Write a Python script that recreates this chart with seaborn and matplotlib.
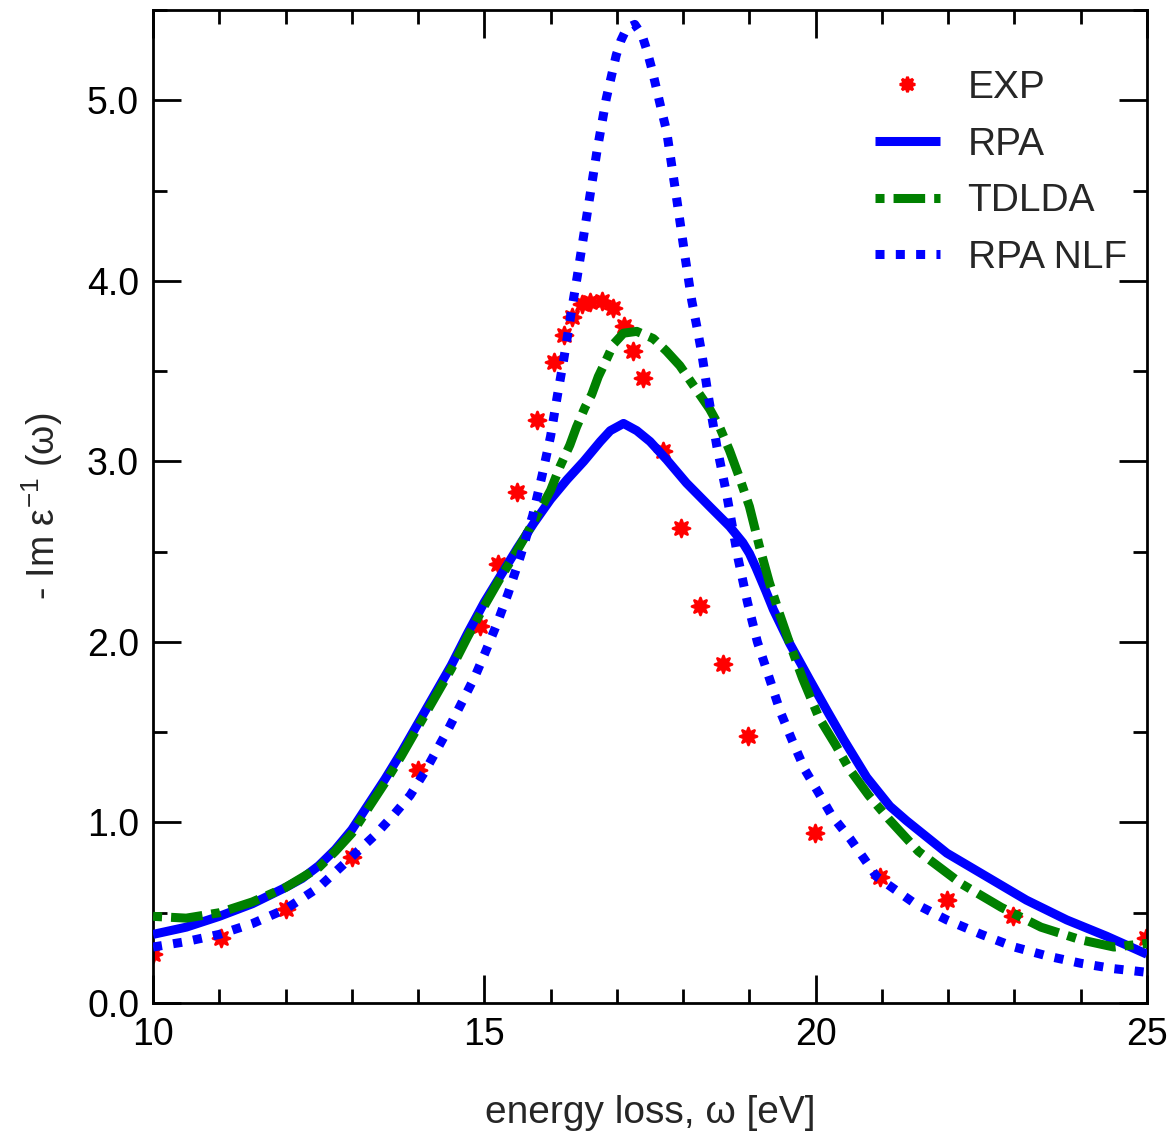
import numpy as np
import pandas as pd
import matplotlib
matplotlib.use("Agg")
import matplotlib.pyplot as plt
from matplotlib.ticker import MultipleLocator, FormatStrFormatter
import seaborn as sns

# Experimental loss function (energy in eV, -Im 1/eps)
exp_energy = [10.0, 11.03, 12.0, 13.0, 14.0, 14.93, 15.2, 15.5, 15.8, 16.05, 16.2, 16.33,
              16.48, 16.6, 16.78, 16.94, 17.1, 17.25, 17.4, 17.7, 17.97, 18.25, 18.6,
              18.98, 19.99, 20.97, 21.98, 22.98, 24.98]
exp_loss = [0.27, 0.36, 0.52, 0.81, 1.29, 2.09, 2.43, 2.83, 3.23, 3.55, 3.70, 3.80,
            3.87, 3.88, 3.89, 3.85, 3.75, 3.61, 3.46, 3.06, 2.63, 2.20, 1.88,
            1.48, 0.94, 0.70, 0.57, 0.48, 0.36]

# RPA with local fields
rpa_energy = [10.0, 10.5, 11.0, 11.5, 12.0, 12.25, 12.5, 12.75, 13.0, 13.25, 13.5, 13.75,
              14.0, 14.25, 14.5, 14.75, 15.0, 15.25, 15.5, 15.75, 16.0, 16.25, 16.5,
              16.75, 16.9, 17.1, 17.3, 17.5, 17.75, 18.05, 18.4, 18.7, 18.9, 19.0,
              19.1, 19.25, 19.36, 19.61, 19.91, 20.17, 20.42, 20.77, 21.12, 21.37,
              21.98, 22.58, 23.18, 23.79, 24.39, 25.0]
rpa_loss = [0.38, 0.42, 0.48, 0.55, 0.64, 0.69, 0.76, 0.85, 0.96, 1.10, 1.24, 1.39,
            1.55, 1.71, 1.87, 2.05, 2.22, 2.37, 2.52, 2.66, 2.79, 2.90, 3.00,
            3.11, 3.17, 3.21, 3.17, 3.11, 3.01, 2.88, 2.75, 2.64, 2.55, 2.49,
            2.41, 2.28, 2.18, 1.99, 1.79, 1.62, 1.46, 1.25, 1.09, 1.01,
            0.83, 0.70, 0.57, 0.46, 0.37, 0.27]

# TDLDA
tdlda_energy = [10.0, 10.5, 11.0, 11.5, 12.0, 12.5, 12.75, 13.0, 13.25, 13.5, 13.75, 14.0,
                14.25, 14.5, 14.75, 15.0, 15.25, 15.5, 15.75, 16.0, 16.14, 16.29, 16.39,
                16.52, 16.62, 16.72, 16.85, 16.95, 17.1, 17.3, 17.55, 17.75, 17.95,
                18.1, 18.25, 18.4, 18.55, 18.7, 18.85, 19.0, 19.15, 19.3, 19.45, 19.6,
                19.8, 20.05, 20.3, 20.5, 20.8, 21.1, 21.55, 22.2, 22.8, 23.4, 24.0,
                24.5, 25.0]
tdlda_loss = [0.48, 0.47, 0.50, 0.56, 0.64, 0.75, 0.84, 0.94, 1.08, 1.22, 1.37, 1.53,
              1.69, 1.85, 2.03, 2.20, 2.36, 2.51, 2.67, 2.84, 2.97, 3.09, 3.19,
              3.30, 3.37, 3.47, 3.57, 3.65, 3.71, 3.72, 3.68, 3.61, 3.53,
              3.45, 3.37, 3.29, 3.19, 3.06, 2.91, 2.75, 2.53, 2.33, 2.16, 2.00,
              1.80, 1.58, 1.43, 1.30, 1.15, 1.02, 0.84, 0.66, 0.53, 0.42, 0.35,
              0.31, 0.33]

# RPA without local fields
nlf_energy = [10.0, 10.5, 11.0, 11.5, 12.0, 12.5, 13.0, 13.35, 13.65, 13.88, 14.1, 14.28,
              14.46, 14.64, 14.86, 15.0, 15.19, 15.36, 15.54, 15.73, 15.87, 16.0, 16.1,
              16.2, 16.3, 16.4, 16.55, 16.7, 16.84, 16.99, 17.06, 17.15, 17.27, 17.38,
              17.45, 17.53, 17.6, 17.67, 17.75, 17.9, 18.03, 18.13, 18.21, 18.28,
              18.38, 18.51, 18.65, 18.83, 18.97, 19.12, 19.3, 19.47, 19.65, 19.84,
              20.05, 20.24, 20.52, 20.92, 21.5, 21.98, 22.5, 23.0, 23.5, 24.0, 24.5,
              25.0]
nlf_loss = [0.31, 0.34, 0.38, 0.44, 0.52, 0.64, 0.81, 0.93, 1.05, 1.15, 1.28, 1.40,
            1.52, 1.65, 1.81, 1.93, 2.10, 2.27, 2.47, 2.70, 2.92, 3.14, 3.36,
            3.57, 3.80, 4.02, 4.37, 4.72, 5.01, 5.25, 5.33, 5.40, 5.42, 5.36,
            5.28, 5.17, 5.06, 4.95, 4.83, 4.46, 4.13, 3.89, 3.74, 3.60,
            3.36, 3.08, 2.83, 2.46, 2.22, 2.00, 1.80, 1.61, 1.45, 1.29,
            1.16, 1.04, 0.91, 0.70, 0.55, 0.46, 0.38, 0.31, 0.26, 0.22, 0.19,
            0.17]

sns.set_style("ticks")
plt.rcParams["font.family"] = ["Liberation Sans", "DejaVu Sans"]
plt.rcParams["mathtext.fontset"] = "custom"
plt.rcParams["mathtext.rm"] = "Liberation Sans"

fig = plt.figure(figsize=(11.71, 11.35), dpi=100)
ax = fig.add_axes([0.1307, 0.1163, 0.8488, 0.8749])

BLUE = "#0000ff"
GREEN = "#008000"
RED = "#ff0000"
LW = 6.5

exp_df = pd.DataFrame({"energy": exp_energy, "loss": exp_loss})
sns.scatterplot(data=exp_df, x="energy", y="loss", ax=ax, color=RED,
                marker=(8, 1, 0), s=150, edgecolor=RED, linewidth=2.0,
                label="EXP", zorder=2, legend=False)

curves = [
    ("RPA", rpa_energy, rpa_loss, BLUE, "-"),
    ("TDLDA", tdlda_energy, tdlda_loss, GREEN, (0, (1.0, 1.0, 3.5, 1.0))),
    ("RPA NLF", nlf_energy, nlf_loss, BLUE, (0, (1.0, 1.25))),
]
handles = []
for name, e, v, col, ls in curves:
    df = pd.DataFrame({"energy": e, "loss": v})
    n_before = len(ax.lines)
    sns.lineplot(data=df, x="energy", y="loss", ax=ax, color=col, linewidth=LW,
                 sort=False, estimator=None, label=name, zorder=3, legend=False)
    line = ax.lines[n_before]
    line.set_linestyle(ls)
    line.set_dash_capstyle("butt")
    line.set_solid_capstyle("butt")
    line.set_solid_joinstyle("round")
    handles.append(line)

exp_handle = plt.Line2D([], [], linestyle="none", marker=(8, 1, 0), markersize=11,
                        color=RED, markeredgecolor=RED, markeredgewidth=2.0)

ax.set_xlim(10, 25)
ax.set_ylim(0, 5.5)
ax.xaxis.set_major_locator(MultipleLocator(5))
ax.xaxis.set_minor_locator(MultipleLocator(1))
ax.yaxis.set_major_locator(MultipleLocator(1))
ax.yaxis.set_minor_locator(MultipleLocator(0.5))
ax.yaxis.set_major_formatter(FormatStrFormatter("%.1f"))

for s in ax.spines.values():
    s.set_visible(True)
    s.set_linewidth(2.0)
    s.set_color("black")
ax.tick_params(which="both", direction="in", top=True, right=True, width=2.0,
               colors="black", labelsize=27)
ax.tick_params(which="major", length=20, pad=10)
ax.tick_params(which="minor", length=10)

ax.set_xlabel("energy loss, ω [eV]", fontsize=28, labelpad=30)
ax.set_ylabel("- Im ε$^{\\mathregular{-1}}$ (ω)", fontsize=27, labelpad=16)

leg = ax.legend([exp_handle] + handles, ["EXP", "RPA", "TDLDA", "RPA NLF"],
                loc="upper left", bbox_to_anchor=(0.726, 0.9396), frameon=False,
                fontsize=28, borderpad=0, borderaxespad=0, handlelength=1.67,
                handletextpad=0.72, labelspacing=0.53)

fig.savefig("out.png", dpi=100)
